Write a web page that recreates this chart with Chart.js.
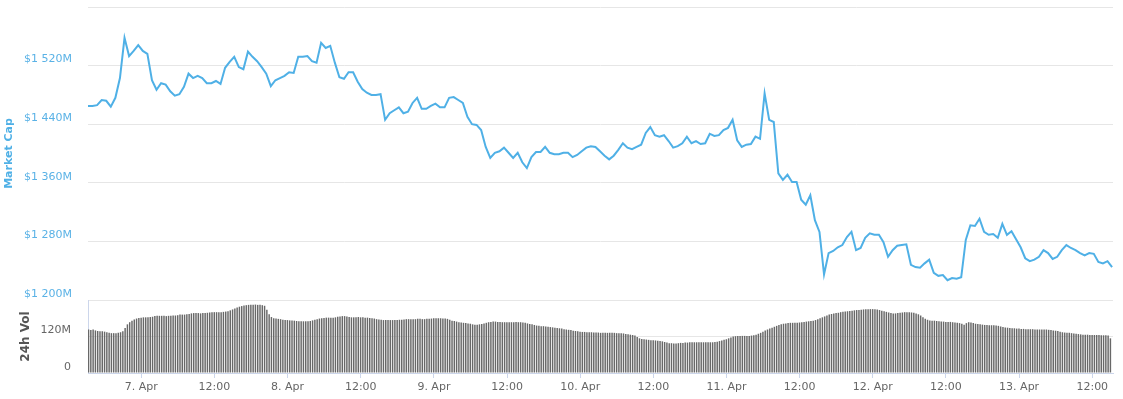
<!DOCTYPE html>
<html><head><meta charset="utf-8">
<script src="https://cdn.jsdelivr.net/npm/chart.js@4.4.1/dist/chart.umd.min.js"></script>
<style>html,body{margin:0;padding:0;background:#fff}#wrap{width:1123px;height:399px}</style>
</head><body><div id="wrap"><canvas id="c" width="1123" height="399"></canvas></div>
<script>
// time in hours relative to 7 Apr 00:00
const startHour = -8.75;
const capStepHours = 0.75;
const volStepHours = 0.375;

// Market cap, $ millions
const marketCap = [
1465,1465,1466,1473,1472,1464,1476,1503,1558,1533,
1540,1548,1540,1536,1500,1487,1496,1494,1485,1479,
1481,1491,1509,1503,1506,1503,1496,1496,1499,1495,
1517,1525,1532,1518,1515,1539,1532,1526,1518,1509,
1492,1500,1503,1506,1511,1510,1532,1532,1533,1526,
1524,1551,1544,1547,1524,1504,1502,1511,1511,1498,
1488,1483,1480,1480,1481,1446,1455,1459,1463,1455,
1457,1469,1476,1461,1461,1465,1468,1463,1463,1476,
1477,1473,1469,1450,1440,1439,1432,1409,1394,1401,
1403,1408,1401,1394,1401,1388,1380,1395,1402,1402,
1409,1401,1399,1399,1401,1401,1395,1398,1403,1408,
1410,1409,1403,1397,1392,1397,1405,1414,1408,1406,
1409,1412,1428,1436,1425,1423,1425,1417,1408,1410,
1414,1423,1414,1417,1413,1414,1427,1424,1425,1432,
1435,1446,1418,1409,1412,1413,1423,1420,1482,1446,
1443,1373,1364,1371,1361,1361,1337,1330,1343,1309,
1293,1235,1264,1267,1272,1275,1286,1293,1268,1271,
1285,1291,1289,1289,1279,1259,1268,1274,1275,1276,
1248,1245,1244,1250,1255,1237,1233,1234,1227,1230,
1229,1231,1282,1302,1301,1311,1293,1289,1290,1285,
1304,1289,1294,1283,1272,1257,1253,1255,1259,1268,
1264,1256,1259,1268,1275,1271,1268,1264,1261,1264,
1263,1252,1250,1253,1245
];

// 24h volume, $ millions
const volume = [
143,141,143,140,138,137,137,136,134,132,
131,131,131,132,134,137,148,160,167,172,
176,179,181,182,183,183,183,184,185,187,
188,188,188,188,187,188,188,189,189,190,
192,192,192,193,194,196,197,197,197,196,
197,197,198,199,200,200,200,200,200,201,
202,203,206,209,212,215,218,220,222,223,
224,224,224,225,224,224,223,221,208,193,
184,180,179,178,177,175,174,174,173,173,
172,171,170,170,170,170,170,171,173,175,
177,179,180,181,182,182,182,182,183,185,
186,187,187,186,184,183,183,183,184,183,
183,182,182,181,180,179,177,176,175,174,
174,174,174,174,174,174,175,175,176,177,
177,177,177,177,178,178,177,177,178,178,
179,180,180,180,180,179,179,178,175,172,
171,169,167,166,165,164,163,162,160,159,
159,160,161,163,165,167,168,169,169,168,
168,167,167,167,167,167,167,168,167,167,
166,165,163,161,160,158,156,155,154,154,
153,152,151,150,149,148,147,146,144,143,
142,141,139,138,137,136,135,135,134,134,
134,133,133,133,132,132,132,132,132,132,
132,131,131,131,130,128,127,126,125,123,
118,114,112,111,110,109,108,108,107,106,
105,104,102,100,98,98,97,97,98,99,
99,100,100,101,101,101,101,101,101,101,
101,101,101,101,102,103,105,107,109,111,
114,117,120,121,122,122,122,122,122,122,
123,124,126,129,132,136,140,143,146,149,
152,155,158,160,162,163,164,165,165,165,
165,166,167,168,169,170,171,172,174,177,
180,183,186,189,192,194,196,197,198,200,
201,202,203,204,205,206,207,207,208,209,
210,210,210,210,210,209,207,205,203,201,
199,197,196,196,197,198,199,200,200,200,
199,198,196,193,189,183,178,175,173,172,
172,171,170,169,169,168,168,168,167,166,
165,164,162,159,164,167,166,164,162,161,
160,159,158,158,157,157,157,156,155,153,
151,150,149,148,147,147,146,146,145,145,
144,144,144,144,143,143,143,143,143,143,
142,141,140,139,138,136,134,133,132,132,
131,130,129,128,127,126,126,126,125,125,
125,125,125,124,124,124,123,114
];

const xTickHours = [0,12,24,36,48,60,72,84,96,108,120,132,144,156];
const xTickLabels = ['7. Apr','12:00','8. Apr','12:00','9. Apr','12:00','10. Apr','12:00','11. Apr','12:00','12. Apr','12:00','13. Apr','12:00'];
const capTicks = [1200,1280,1360,1440,1520,1600];
const volTicks = [0,120,240];

const capData = marketCap.map((v, i) => ({x: startHour + i * capStepHours, y: v}));
const volData = volume.map((v, i) => ({x: startHour + 0.1 + i * volStepHours, y: v}));

function fmtCap(v) {
  if (v >= 1600) return '';
  return '$' + Math.floor(v / 1000) + ' ' + String(v % 1000).padStart(3, '0') + 'M';
}
function fmtVol(v) {
  if (v === 0) return '0';
  if (v >= 240) return '';
  return v + 'M';
}
function noPad(s) { s.paddingTop = 0; s.paddingBottom = 0; s.paddingLeft = 0; s.paddingRight = 0; }

Chart.defaults.font.family = '"DejaVu Sans", sans-serif';
Chart.defaults.font.size = 11;

new Chart(document.getElementById('c'), {
  type: 'line',
  data: {
    datasets: [
      {
        label: 'Market Cap',
        data: capData,
        yAxisID: 'y',
        borderColor: '#4fb0e6',
        borderWidth: 2,
        pointRadius: 0,
        tension: 0,
        fill: false
      },
      {
        type: 'bar',
        label: '24h Vol',
        data: volData,
        yAxisID: 'yVol',
        backgroundColor: '#686868',
        borderWidth: 0,
        categoryPercentage: 1,
        barPercentage: 0.64
      }
    ]
  },
  options: {
    responsive: false,
    animation: false,
    layout: { padding: { top: 7, right: 10, bottom: 0, left: 0 } },
    plugins: { legend: { display: false }, tooltip: { enabled: false } },
    scales: {
      x: {
        type: 'linear',
        offset: false,
        min: -8.74,
        max: 159.4,
        position: 'bottom',
        afterBuildTicks: s => { s.ticks = xTickHours.map(v => ({value: v})); },
        afterFit: s => { s.height = 26; noPad(s); },
        ticks: {
          color: '#666666',
          padding: 3,
          maxRotation: 0,
          autoSkip: false,
          font: { size: 11 },
          callback: (v, i) => xTickLabels[i]
        },
        grid: { offset: false, drawOnChartArea: false, drawTicks: true, tickLength: 5, tickColor: '#ccd6eb', color: '#ccd6eb' },
        border: { display: true, color: '#ccd6eb' }
      },
      y: {
        type: 'linear',
        position: 'left',
        stack: 'left',
        stackWeight: 293,
        weight: 2,
        min: 1200,
        max: 1600,
        afterBuildTicks: s => { s.ticks = capTicks.map(v => ({value: v})); },
        afterFit: s => { s.width = 88; noPad(s); },
        ticks: {
          color: '#5ab2e6',
          padding: 16,
          labelOffset: -6,
          font: { size: 11 },
          callback: v => fmtCap(v)
        },
        title: {
          display: true,
          text: 'Market Cap',
          color: '#4fb0e6',
          font: { size: 11, weight: 'bold' },
          padding: { top: 3, bottom: 0 }
        },
        grid: { color: '#e6e6e6', drawTicks: false },
        border: { display: false }
      },
      yVol: {
        type: 'linear',
        position: 'left',
        stack: 'left',
        stackWeight: 73,
        weight: 1,
        min: 0,
        max: 240,
        afterBuildTicks: s => { s.ticks = volTicks.map(v => ({value: v})); },
        afterFit: s => { s.width = 88; noPad(s); },
        ticks: {
          color: '#666666',
          padding: 17,
          labelOffset: -6,
          font: { size: 11 },
          callback: v => fmtVol(v)
        },
        title: {
          display: true,
          text: '24h Vol',
          color: '#555555',
          font: { size: 12, weight: 'bold' },
          padding: { top: 19, bottom: 0 }
        },
        grid: { color: '#e6e6e6', drawTicks: false },
        border: { display: true, color: '#ccd6eb' }
      }
    }
  }
});
</script>
</body></html>
